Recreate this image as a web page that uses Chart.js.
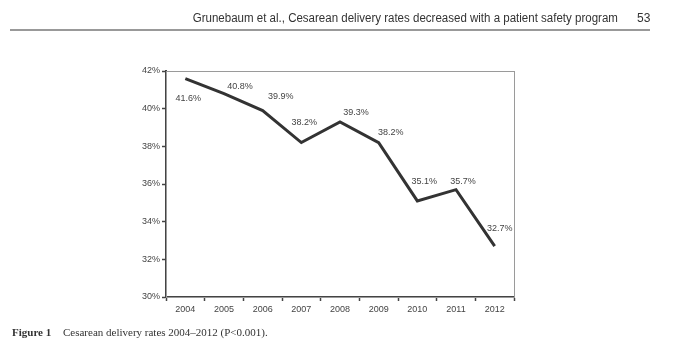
<!DOCTYPE html>
<html><head><meta charset="utf-8">
<script src="https://cdn.jsdelivr.net/npm/chart.js@4"></script>
<style>
html,body{margin:0;padding:0;background:#fff;width:678px;height:354px;overflow:hidden;}
#wrap{position:absolute;left:0;top:0;width:678px;height:354px;}
#hdr{position:absolute;right:60px;top:11px;font-family:"Liberation Sans Narrow","Liberation Sans",sans-serif;font-size:12px;color:#333;white-space:nowrap;transform:scaleX(0.96);transform-origin:right center;}
#pg{position:absolute;left:637px;top:11px;font-family:"Liberation Sans Narrow","Liberation Sans",sans-serif;font-size:12px;color:#333;}
#rule{position:absolute;left:10px;top:29px;width:640px;height:2px;background:#999;}
#cap{position:absolute;left:12px;top:326px;font-family:"Liberation Serif",serif;font-size:11px;color:#333;white-space:nowrap;}
#cap b{margin-right:9px;}
</style></head>
<body>
<div id="wrap"><canvas id="c" width="678" height="354"></canvas></div>
<div id="hdr">Grunebaum et al., Cesarean delivery rates decreased with a patient safety program</div>
<div id="pg">53</div>
<div id="rule"></div>
<div id="cap"><b>Figure 1</b> Cesarean delivery rates 2004–2012 (P&lt;0.001).</div>
<script>
const years = ['2004','2005','2006','2007','2008','2009','2010','2011','2012'];
const rates = [41.6, 40.8, 39.9, 38.2, 39.3, 38.2, 35.1, 35.7, 32.7];
const yTicks = [30, 32, 34, 36, 38, 40, 42];
// label offsets (px) from each point
const labelDx = [3, 16, 18, 3, 16, 12, 7, 7, 5];
const labelDy = [20, -7, -14, -20, -9, -10, -19, -8, -18];

const frame = {
  id: 'frame',
  beforeDatasetsDraw(chart) {
    const a = chart.chartArea, ctx = chart.ctx;
    ctx.save();
    ctx.strokeStyle = '#9a9a9a';
    ctx.lineWidth = 1;
    ctx.strokeRect(a.left + 0.5, a.top + 0.5, a.right - a.left, a.bottom - a.top);
    ctx.restore();
  }
};
const labels = {
  id: 'lbls',
  afterDatasetsDraw(chart) {
    const ctx = chart.ctx, meta = chart.getDatasetMeta(0);
    ctx.save();
    ctx.font = '9px "Liberation Sans", Arial, sans-serif';
    ctx.fillStyle = '#444';
    ctx.textAlign = 'center';
    ctx.textBaseline = 'middle';
    meta.data.forEach((p, i) => {
      ctx.fillText(rates[i].toFixed(1) + '%', p.x + labelDx[i], p.y + labelDy[i]);
    });
    ctx.restore();
  }
};

new Chart(document.getElementById('c'), {
  type: 'line',
  data: { labels: years, datasets: [{ data: rates, borderColor: '#333', borderWidth: 3, pointRadius: 0, tension: 0, fill: false }] },
  options: {
    responsive: false, animation: false, devicePixelRatio: 1,
    layout: { padding: { left: 130, top: 71, right: 164, bottom: 33 } },
    plugins: { legend: { display: false }, tooltip: { enabled: false } },
    scales: {
      x: {
        offset: true,
        grid: { display: true, drawOnChartArea: false, offset: true, tickLength: 4, color: '#444', tickWidth: 1.5 },
        border: { display: true, color: '#444', width: 2 },
        ticks: { color: '#444', font: { size: 9, family: '"Liberation Sans", Arial, sans-serif' }, padding: 3, maxRotation: 0 },
        afterFit(s) { s.height = 24; }
      },
      y: {
        min: 30, max: 42,
        afterBuildTicks(s) { s.ticks = yTicks.map(v => ({ value: v })); },
        grid: { display: true, drawOnChartArea: false, tickLength: 4, color: '#444', tickWidth: 1.5 },
        border: { display: true, color: '#444', width: 2 },
        ticks: { color: '#444', font: { size: 9, family: '"Liberation Sans", Arial, sans-serif' }, padding: 2, callback: v => v + '%' },
        afterFit(s) { s.width = 36; }
      }
    }
  },
  plugins: [frame, labels]
});
</script>
</body></html>
